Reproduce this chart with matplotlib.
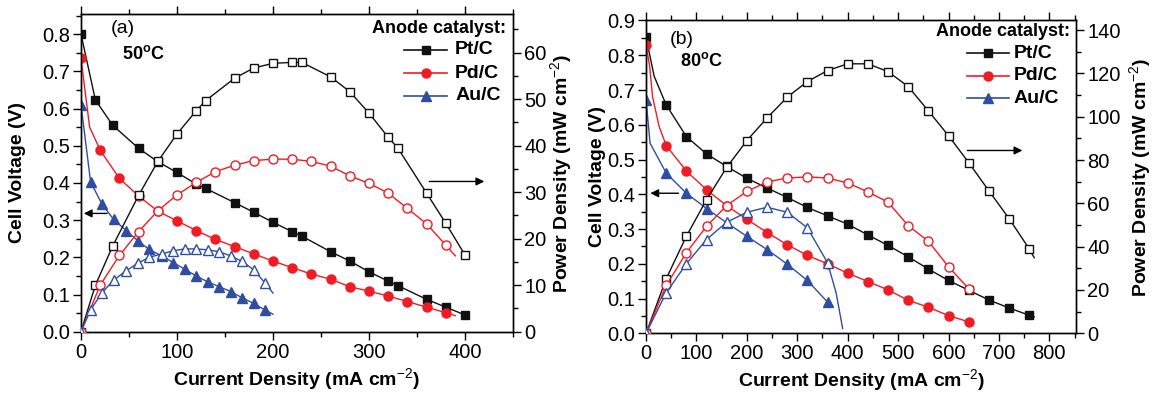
import matplotlib
matplotlib.use("Agg")
import matplotlib.pyplot as plt
from matplotlib.ticker import MultipleLocator, FormatStrFormatter

plt.rcParams['font.family'] = ['Liberation Sans', 'DejaVu Sans']
plt.rcParams['mathtext.fontset'] = 'custom'
plt.rcParams['mathtext.rm'] = 'Liberation Sans'
plt.rcParams['mathtext.bf'] = 'Liberation Sans:bold'

# ---------------- Panel (a), 50 C ----------------
a_pt_x = [0, 15, 33, 60, 80, 100, 120, 130, 160, 180, 200, 220, 230, 260, 280, 300, 320, 330, 360, 380, 400]
a_pt_v = [0.80, 0.623, 0.555, 0.493, 0.457, 0.428, 0.397, 0.385, 0.347, 0.321, 0.294, 0.269, 0.257,
          0.215, 0.190, 0.161, 0.136, 0.124, 0.087, 0.066, 0.045]
a_pt_p = [0, 10.0, 18.4, 29.3, 36.6, 42.5, 47.5, 49.7, 54.5, 56.7, 57.7, 57.9, 57.9,
          54.8, 51.6, 47.0, 41.8, 39.5, 29.8, 23.3, 16.5]

a_pd_vx = [0, 9, 20, 40, 60, 80, 100, 120, 140, 160, 180, 200, 220, 240, 260, 280, 300, 320, 340, 360, 380, 390]
a_pd_v = [0.735, 0.55, 0.488, 0.412, 0.365, 0.324, 0.298, 0.272, 0.248, 0.229, 0.209, 0.190, 0.172,
          0.155, 0.141, 0.121, 0.109, 0.096, 0.081, 0.066, 0.051, 0.043]
a_pd_vmark = [0] + list(range(2, 21))
a_pd_px = [0, 20, 40, 60, 80, 100, 120, 140, 160, 180, 200, 220, 240, 260, 280, 300, 320, 340, 360, 380, 390]
a_pd_p = [0, 10.0, 16.4, 21.5, 26.0, 29.4, 32.1, 34.4, 35.8, 36.8, 37.1, 37.1, 36.6, 35.6,
          33.5, 31.9, 29.8, 26.5, 23.2, 18.6, 16.3]
a_pd_pmark = list(range(0, 20))

a_au_x = [0, 10, 22, 34, 47, 59, 71, 84, 96, 108, 120, 132, 144, 156, 168, 180, 192, 200]
a_au_v = [0.61, 0.403, 0.342, 0.302, 0.272, 0.245, 0.221, 0.204, 0.186, 0.168, 0.150, 0.134,
          0.121, 0.108, 0.091, 0.076, 0.058, 0.047]
a_au_p = [0, 4.7, 8.4, 11.1, 13.1, 14.7, 16.0, 16.7, 17.4, 17.8, 17.8, 17.6, 17.2, 16.3,
          15.1, 13.3, 10.4, 8.3]
a_au_mark = list(range(0, 17))

# ---------------- Panel (b), 80 C ----------------
b_pt_x = [0, 40, 80, 120, 160, 200, 240, 280, 320, 360, 400, 440, 480, 520, 560, 600, 640, 680, 720, 760, 770]
b_pt_vx = [0, 16, 40, 80, 120, 160, 200, 240, 280, 320, 360, 400, 440, 480, 520, 560, 600, 640, 680, 720, 760, 770]
b_pt_v = [0.852, 0.74, 0.657, 0.566, 0.516, 0.480, 0.446, 0.418, 0.391, 0.362, 0.338, 0.314, 0.283,
          0.253, 0.220, 0.185, 0.152, 0.124, 0.096, 0.073, 0.052, 0.047]
b_pt_vmark = [0] + list(range(2, 21))
b_pt_p = [0, 25.2, 44.8, 61.7, 76.6, 89.0, 99.4, 109.0, 116.2, 121.3, 124.4, 124.4, 120.8, 113.9,
          102.7, 91.2, 78.8, 65.8, 53.0, 39.0, 34.9]
b_pt_pmark = list(range(0, 20))

b_pd_vx = [0, 7, 13, 26, 40, 80, 120, 160, 200, 240, 280, 320, 360, 400, 440, 480, 520, 560, 600, 640]
b_pd_v = [0.83, 0.77, 0.68, 0.595, 0.54, 0.467, 0.413, 0.367, 0.328, 0.290, 0.255, 0.224, 0.200,
          0.173, 0.149, 0.125, 0.095, 0.075, 0.051, 0.033]
b_pd_vmark = [0] + list(range(4, 20))
b_pd_px = [0, 40, 80, 120, 160, 200, 240, 280, 320, 360, 400, 440, 480, 520, 560, 600, 640]
b_pd_p = [0, 22.1, 37.2, 49.4, 59.0, 65.5, 69.9, 71.7, 72.2, 71.7, 69.4, 65.3, 60.5, 49.7, 42.5, 30.7, 20.6]

b_au_vx = [0, 8, 40, 80, 120, 160, 200, 240, 280, 320, 360, 370]
b_au_v = [0.672, 0.547, 0.461, 0.403, 0.359, 0.318, 0.279, 0.241, 0.199, 0.152, 0.090, 0.079]
b_au_vmark = [0] + list(range(2, 11))
b_au_px = [0, 40, 80, 120, 160, 200, 240, 280, 320, 360, 377, 390]
b_au_p = [0, 18.7, 32.1, 43.3, 51.3, 55.9, 58.2, 55.9, 48.7, 32.6, 18.7, 2.2]
b_au_pmark = list(range(0, 10))

series_names = ["Pt/C", "Pd/C", "Au/C"]
BLACK = '#111111'
RED = '#ef1c24'
BLUE = '#2f4ea2'

fig = plt.figure(figsize=(11.52, 3.94), dpi=100)

TICK_FS = 14.5
LAB_FS = 14


def style_axes(ax, ax2, xmaj, xmin_, ymaj, ymin_, y2maj, y2min):
    for a in (ax, ax2):
        for s in a.spines.values():
            s.set_linewidth(1.0)
    ax.xaxis.set_major_locator(MultipleLocator(xmaj))
    ax.xaxis.set_minor_locator(MultipleLocator(xmin_))
    ax.yaxis.set_major_locator(MultipleLocator(ymaj))
    ax.yaxis.set_minor_locator(MultipleLocator(ymin_))
    ax2.yaxis.set_major_locator(MultipleLocator(y2maj))
    ax2.yaxis.set_minor_locator(MultipleLocator(y2min))
    ax.tick_params(axis='both', which='major', direction='out', length=6, width=1,
                   labelsize=TICK_FS, pad=2)
    ax.tick_params(axis='both', which='minor', direction='out', length=3.5, width=1)
    ax.tick_params(axis='x', which='both', top=True, labeltop=False)
    ax2.tick_params(axis='y', which='major', direction='out', length=6, width=1,
                    labelsize=TICK_FS, pad=2)
    ax2.tick_params(axis='y', which='minor', direction='out', length=3.5, width=1)
    ax.yaxis.set_major_formatter(FormatStrFormatter('%.1f'))


def draw_v(ax, x, y, color, marker, ms, me=None):
    ax.plot(x, y, color=color, lw=1.0, marker=marker, ms=ms, mfc=color, mec=color,
            mew=1.0, markevery=me, zorder=3)


def draw_p(ax, x, y, color, marker, ms, me=None):
    ax.plot(x, y, color=color, lw=1.0, marker=marker, ms=ms, mfc='white', mec=color,
            mew=1.0, markevery=me, zorder=3)


def legend_block(ax, x0, x1, xt, ys, ytitle, xtitle):
    tr = ax.transAxes
    ax.text(xtitle, ytitle, "Anode catalyst:", transform=tr, ha='right', va='center',
            fontsize=13, fontweight='bold')
    specs = [(BLACK, 's', 5.5), (RED, 'o', 6.5), (BLUE, '^', 7)]
    for (c, m, ms), y, name in zip(specs, ys, series_names):
        ax.plot([x0, x1], [y, y], transform=tr, color=c, lw=1.2, clip_on=False)
        ax.plot([(x0 + x1) / 2], [y], transform=tr, color=c, marker=m, ms=ms, clip_on=False)
        ax.text(xt, y, name, transform=tr, ha='left', va='center', fontsize=14,
                fontweight='bold')


# ----- Panel (a) -----
ax = fig.add_axes([0.0703, 0.1581, 0.375, 0.8063])
ax2 = ax.twinx()
ax.set_xlim(0, 450)
ax.set_ylim(0, 0.854)
ax2.set_ylim(0, 68.3)
style_axes(ax, ax2, 100, 50, 0.1, 0.05, 10, 5)

draw_v(ax, a_pt_x, a_pt_v, BLACK, 's', 5.5)
draw_v(ax, a_pd_vx, a_pd_v, RED, 'o', 6.5, a_pd_vmark)
draw_v(ax, a_au_x, a_au_v, BLUE, '^', 7, a_au_mark)
draw_p(ax2, a_pt_x, a_pt_p, BLACK, 's', 5.5)
draw_p(ax2, a_pd_px, a_pd_p, RED, 'o', 6.5, a_pd_pmark)
draw_p(ax2, a_au_x, a_au_p, BLUE, '^', 7, a_au_mark)

ax.set_xlabel("Current Density (mA cm$^{-2}$)", fontsize=LAB_FS, fontweight='bold', labelpad=3)
ax.set_ylabel("Cell Voltage (V)", fontsize=LAB_FS, fontweight='bold')
ax2.set_ylabel("Power Density (mW cm$^{-2}$)", fontsize=LAB_FS, fontweight='bold')
ax.yaxis.set_label_coords(-0.128, 0.5)
ax2.yaxis.set_label_coords(1.081, 0.5)

ax.text(0.07, 0.955, "(a)", transform=ax.transAxes, fontsize=14, ha='left', va='center')
ax.text(0.095, 0.875, "50$^{\\mathbf{o}}$C", transform=ax.transAxes, fontsize=13,
        fontweight='bold', ha='left', va='center')
legend_block(ax, 0.748, 0.848, 0.866,
             [0.887, 0.814, 0.742], 0.956, 0.983)

ax.annotate("", xy=(0, 0.318), xytext=(30, 0.318),
            arrowprops=dict(arrowstyle='-|>', color='black', lw=1.0, mutation_scale=12))
ax2.annotate("", xy=(423, 32.3), xytext=(360, 32.3),
             arrowprops=dict(arrowstyle='-|>', color='black', lw=1.0, mutation_scale=12))

# ----- Panel (b) -----
bx = fig.add_axes([0.5608, 0.154, 0.3733, 0.794])
bx2 = bx.twinx()
bx.set_xlim(0, 853)
bx.set_ylim(0, 0.9)
bx2.set_ylim(0, 144.4)
style_axes(bx, bx2, 100, 50, 0.1, 0.05, 20, 10)

draw_v(bx, b_pt_vx, b_pt_v, BLACK, 's', 5.5, b_pt_vmark)
draw_v(bx, b_pd_vx, b_pd_v, RED, 'o', 6.5, b_pd_vmark)
draw_v(bx, b_au_vx, b_au_v, BLUE, '^', 7, b_au_vmark)
draw_p(bx2, b_pt_x, b_pt_p, BLACK, 's', 5.5, b_pt_pmark)
draw_p(bx2, b_pd_px, b_pd_p, RED, 'o', 6.5)
draw_p(bx2, b_au_px, b_au_p, BLUE, '^', 7, b_au_pmark)

bx.set_xlabel("Current Density (mA cm$^{-2}$)", fontsize=LAB_FS, fontweight='bold', labelpad=3)
bx.set_ylabel("Cell Voltage (V)", fontsize=LAB_FS, fontweight='bold')
bx2.set_ylabel("Power Density (mW cm$^{-2}$)", fontsize=LAB_FS, fontweight='bold')
bx.yaxis.set_label_coords(-0.093, 0.5)
bx2.yaxis.set_label_coords(1.12, 0.5)

bx.text(0.055, 0.94, "(b)", transform=bx.transAxes, fontsize=14, ha='left', va='center')
bx.text(0.08, 0.87, "80$^{\\mathbf{o}}$C", transform=bx.transAxes, fontsize=13,
        fontweight='bold', ha='left', va='center')
legend_block(bx, 0.746, 0.843, 0.855,
             [0.896, 0.823, 0.752], 0.964, 0.985)

bx.annotate("", xy=(3, 0.403), xytext=(70, 0.403),
            arrowprops=dict(arrowstyle='-|>', color='black', lw=1.0, mutation_scale=12))
bx2.annotate("", xy=(752, 84.4), xytext=(632, 84.4),
             arrowprops=dict(arrowstyle='-|>', color='black', lw=1.0, mutation_scale=12))

fig.savefig("out.png", dpi=100)
